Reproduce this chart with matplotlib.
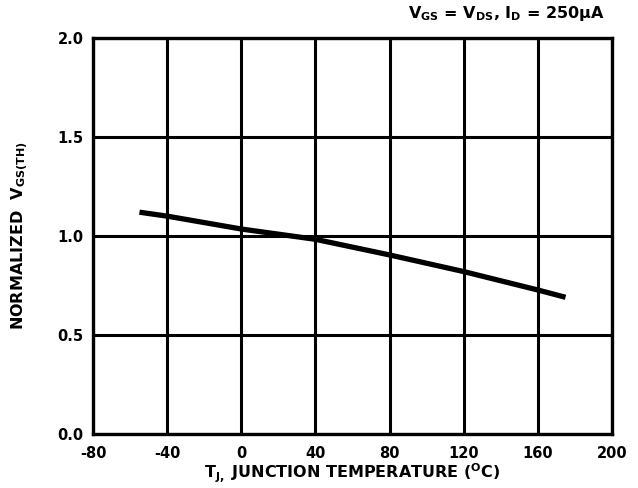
import matplotlib
matplotlib.use("Agg")
import matplotlib.pyplot as plt
import numpy as np

temps = [-55, -40, 0, 40, 80, 120, 160, 175]
vgs_norm = [1.12, 1.10, 1.035, 0.983, 0.904, 0.82, 0.727, 0.69]
xticks = [-80, -40, 0, 40, 80, 120, 160, 200]
yticks = [0.0, 0.5, 1.0, 1.5, 2.0]

plt.rcParams['font.family'] = ['DejaVu Sans']
plt.rcParams['font.weight'] = 'bold'
plt.rcParams['mathtext.fontset'] = 'custom'
plt.rcParams['mathtext.rm'] = 'DejaVu Sans:bold'
plt.rcParams['mathtext.it'] = 'DejaVu Sans:bold'
plt.rcParams['mathtext.bf'] = 'DejaVu Sans:bold'

FS = 10.5
LFS = 11.5

fig = plt.figure(figsize=(6.38, 4.88), dpi=100)
ax = fig.add_axes([0.146, 0.111, 0.813, 0.811])

ax.plot(temps, vgs_norm, color='black', lw=3.8, solid_capstyle='butt',
        solid_joinstyle='round', zorder=3)

ax.set_xlim(-80, 200)
ax.set_ylim(0, 2.0)
ax.set_xticks(xticks)
ax.set_yticks(yticks)
ax.set_xticklabels([str(t) for t in xticks])
ax.set_yticklabels([f"{t:.1f}" for t in yticks])
ax.grid(True, color='black', lw=2.2)
ax.tick_params(axis='x', direction='in', length=0, labelsize=FS, pad=9)
ax.tick_params(axis='y', direction='in', length=0, labelsize=FS, pad=7)
for s in ax.spines.values():
    s.set_linewidth(2.4)
for lab in ax.get_xticklabels() + ax.get_yticklabels():
    lab.set_fontweight('bold')

ax.set_xlabel(r"T$_{J,}$ JUNCTION TEMPERATURE ($^{O}$C)", fontsize=LFS, fontweight='bold', labelpad=0)
ax.set_ylabel(r"NORMALIZED  V$_{GS(TH)}$", fontsize=LFS, fontweight='bold', labelpad=19)
fig.text(0.948, 0.972, r"V$_{GS}$ = V$_{DS}$, I$_{D}$ = 250μA", ha='right', va='center',
         fontsize=LFS, fontweight='bold')

fig.savefig("out.png", dpi=100)
